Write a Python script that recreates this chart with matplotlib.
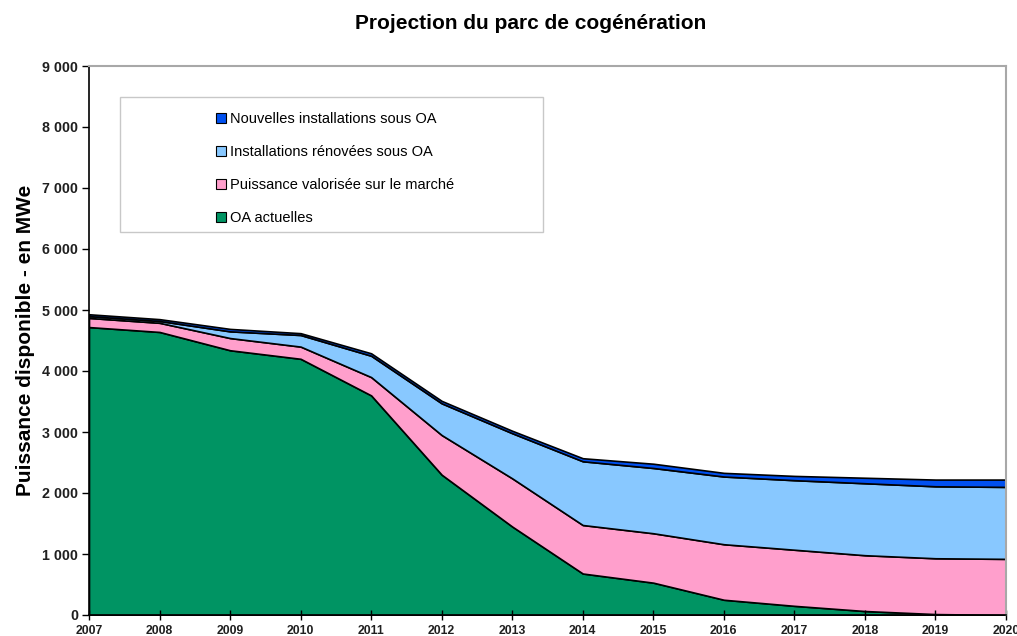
import numpy as np
import matplotlib
matplotlib.use("Agg")
import matplotlib.pyplot as plt
from matplotlib.patches import Rectangle, Patch
from matplotlib.ticker import FuncFormatter

plt.rcParams['font.family'] = ['Liberation Sans', 'DejaVu Sans']

years = list(range(2007, 2021))
oa_actuelles = [4720, 4640, 4340, 4200, 3600, 2300, 1450, 680, 530, 250, 150, 65, 15, 0]
marche = [150, 150, 200, 200, 300, 650, 790, 795, 810, 910, 920, 915, 915, 920]
renovees = [30, 30, 110, 190, 350, 520, 740, 1045, 1070, 1110, 1140, 1180, 1180, 1180]
nouvelles = [30, 30, 40, 30, 40, 40, 40, 50, 70, 60, 70, 90, 110, 120]

labels = ["OA actuelles", "Puissance valorisée sur le marché",
          "Installations rénovées sous OA", "Nouvelles installations sous OA"]
colors = ["#009463", "#ff9fcc", "#88c8ff", "#0050f0"]

fig = plt.figure(figsize=(10.17, 6.36), dpi=100)
ax = fig.add_axes([89 / 1017, 21 / 636, 917 / 1017, 549 / 636])

ax.stackplot(years, oa_actuelles, marche, renovees, nouvelles,
             colors=colors, edgecolor="black", linewidth=1.2)

ax.set_xlim(2007, 2020)
ax.set_ylim(0, 9000)
ax.set_xticks(years)
ax.set_yticks(range(0, 9001, 1000))
ax.yaxis.set_major_formatter(FuncFormatter(lambda v, p: f"{int(v):,}".replace(",", " ")))

for s in ["left", "bottom"]:
    ax.spines[s].set_color("black")
    ax.spines[s].set_linewidth(1.2)
for s in ["top", "right"]:
    ax.spines[s].set_color("#a8a8a8")
    ax.spines[s].set_linewidth(1.5)

ax.tick_params(axis="y", direction="out", length=5, width=1, pad=3, labelsize=10.3,
               labelcolor="#202020")
ax.tick_params(axis="x", direction="inout", length=7, width=1, pad=4, labelsize=8.8,
               labelcolor="#202020")
for t in ax.get_xticklabels() + ax.get_yticklabels():
    t.set_fontweight("bold")

ax.set_ylabel("Puissance disponible - en MWe", fontsize=15, fontweight="bold", labelpad=5)
fig.text(0.522, 0.963, "Projection du parc de cogénération", ha="center", va="center",
         fontsize=15, fontweight="bold")

# legend box
ax.add_patch(Rectangle(((120 - 89) / 917, (615 - 232) / 549),
                       (543 - 120) / 917, (232 - 97) / 549, transform=ax.transAxes,
                       facecolor="white", edgecolor="#c8c8c8", linewidth=1, zorder=5))
handles = [Patch(facecolor=c, edgecolor="black", linewidth=0.8) for c in colors[::-1]]
leg = ax.legend(handles, labels[::-1], loc="upper left",
                bbox_to_anchor=((203 - 89) / 917, (615 - 99) / 549),
                frameon=False, fontsize=10.5, handlelength=0.65, handleheight=0.7,
                handletextpad=0.3, labelspacing=1.3)
leg.set_zorder(6)

fig.savefig("out.png", dpi=100)
